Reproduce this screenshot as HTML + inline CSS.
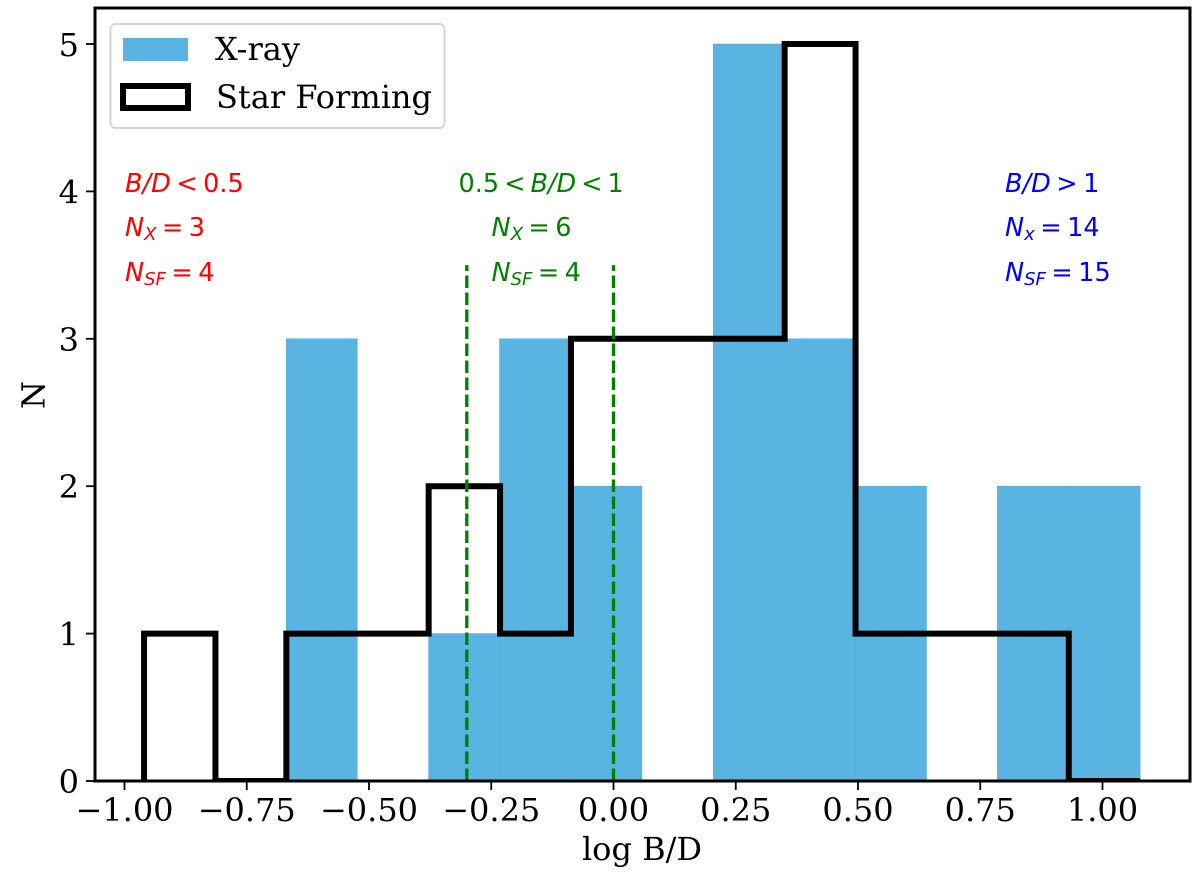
<!DOCTYPE html>
<html>
<head>
<meta charset="utf-8">
<title>log B/D histogram</title>
<style>
html,body{margin:0;padding:0;background:#fff;width:1200px;height:879px;overflow:hidden}
svg{display:block}
.tick{font-family:"DejaVu Serif","Liberation Serif",serif;font-size:32px;fill:#000}
.axt{font-family:"DejaVu Serif","Liberation Serif",serif;font-size:32px;fill:#000}
.leg{font-family:"DejaVu Serif","Liberation Serif",serif;font-size:32px;fill:#000}
.ann{font-family:"DejaVu Sans","Liberation Sans",sans-serif;font-size:25.5px}
.ann .i{font-style:italic}
.ann .s{font-size:18px;font-style:italic}
</style>
</head>
<body>
<svg id="chart" width="1200" height="879" viewBox="0 0 1200 879" xmlns="http://www.w3.org/2000/svg">
  <defs><clipPath id="axes-clip"><rect x="95" y="8" width="1095" height="773"/></clipPath></defs>
  <rect x="95" y="8" width="1095" height="773" fill="#fff"/>
  <g id="xray-bars"></g>
  <path id="sf-step" clip-path="url(#axes-clip)" fill="none" stroke="#000" stroke-width="6" stroke-linejoin="miter"/>
  <g id="guides"></g>
  <rect x="95" y="8" width="1095" height="773" fill="none" stroke="#000" stroke-width="3"/>
  <g id="x-ticks"></g>
  <g id="y-ticks"></g>
  <text class="axt" x="642" y="860" text-anchor="middle">log B/D</text>
  <text class="axt" transform="translate(44.5,395) rotate(-90)" text-anchor="middle">N</text>

  <g>
    <rect x="110.5" y="24" width="334" height="104" rx="5" fill="#fff" fill-opacity="0.85" stroke="#d6d6d6" stroke-width="2"/>
    <rect x="123" y="38" width="65" height="23" fill="#5ab4e2"/>
    <text class="leg" x="215" y="60">X-ray</text>
    <rect x="123" y="86" width="65" height="22" fill="none" stroke="#000" stroke-width="6"/>
    <text class="leg" x="216" y="108">Star Forming</text>
  </g>

  <g class="ann" fill="#ff0000">
    <text x="125" y="192"><tspan class="i">B/D</tspan><tspan dx="5.5">&lt;</tspan><tspan dx="5.5">0.5</tspan></text>
    <text x="125" y="236"><tspan class="i">N</tspan><tspan class="s" dy="4">X</tspan><tspan dy="-4" dx="5.5">=</tspan><tspan dx="5.5">3</tspan></text>
    <text x="125" y="281"><tspan class="i">N</tspan><tspan class="s" dy="4">SF</tspan><tspan dy="-4" dx="5.5">=</tspan><tspan dx="5.5">4</tspan></text>
  </g>
  <g class="ann" fill="#008000">
    <text x="458.5" y="192">0.5<tspan dx="5">&lt;</tspan><tspan class="i" dx="5">B/D</tspan><tspan dx="5">&lt;</tspan><tspan dx="5">1</tspan></text>
    <text x="491.5" y="236"><tspan class="i">N</tspan><tspan class="s" dy="4">X</tspan><tspan dy="-4" dx="5.5">=</tspan><tspan dx="5.5">6</tspan></text>
    <text x="491.5" y="281"><tspan class="i">N</tspan><tspan class="s" dy="4">SF</tspan><tspan dy="-4" dx="5.5">=</tspan><tspan dx="5.5">4</tspan></text>
  </g>
  <g class="ann" fill="#0000ff">
    <text x="1005" y="192"><tspan class="i">B/D</tspan><tspan dx="5.5">&gt;</tspan><tspan dx="5.5">1</tspan></text>
    <text x="1005" y="236"><tspan class="i">N</tspan><tspan class="s" dy="4">x</tspan><tspan dy="-4" dx="5.5">=</tspan><tspan dx="5.5">14</tspan></text>
    <text x="1005" y="281"><tspan class="i">N</tspan><tspan class="s" dy="4">SF</tspan><tspan dy="-4" dx="5.5">=</tspan><tspan dx="5.5">15</tspan></text>
  </g>
</svg>
<script>
const xrayEdges = [-0.669,-0.524,-0.378,-0.233,-0.087,0.058,0.204,0.349,0.495,0.640,0.785,0.931,1.077];
const xrayCounts = [3,0,1,3,2,0,5,3,2,0,2,2];
const sfEdges = [-0.960,-0.814,-0.669,-0.523,-0.378,-0.232,-0.087,0.059,0.204,0.350,0.495,0.640,0.786,0.931,1.077];
const sfCounts = [1,0,1,1,2,1,3,3,3,5,1,1,1,0];
const guideValues = [-0.3,0];
const guideTop = 3.5;
const xTickValues = [-1,-0.75,-0.5,-0.25,0,0.25,0.5,0.75,1];
const xTickLabels = ["\u22121.00","\u22120.75","\u22120.50","\u22120.25","0.00","0.25","0.50","0.75","1.00"];
const yTickValues = [0,1,2,3,4,5];
const yTickLabels = ["0","1","2","3","4","5"];

const NS = "http://www.w3.org/2000/svg";
function xPos(v){ return 613.5 + v * 489; }
function yPos(v){ return 781 - v * 147.4; }
function mk(tag, attrs, parent){
  const el = document.createElementNS(NS, tag);
  for (const k in attrs) el.setAttribute(k, attrs[k]);
  parent.appendChild(el);
  return el;
}

const barsG = document.getElementById("xray-bars");
xrayCounts.forEach(function(c, i){
  if (c <= 0) return;
  const x0 = xPos(xrayEdges[i]), x1 = xPos(xrayEdges[i + 1]);
  const bar = mk("rect", {x: x0, y: yPos(c), width: x1 - x0, height: yPos(0) - yPos(c), fill: "#5ab4e2", stroke: "#4fadde", "stroke-width": 0.6}, barsG);
  
  
});

let d = "M" + xPos(sfEdges[0]) + " " + yPos(0);
sfCounts.forEach(function(c, i){
  d += " L" + xPos(sfEdges[i]) + " " + yPos(c) + " L" + xPos(sfEdges[i + 1]) + " " + yPos(c);
});
d += " L" + xPos(sfEdges[sfEdges.length - 1]) + " " + yPos(0);
document.getElementById("sf-step").setAttribute("d", d);

const guidesG = document.getElementById("guides");
guideValues.forEach(function(v){
  const line = mk("line", {x1: xPos(v), x2: xPos(v), y1: yPos(0), y2: yPos(guideTop), stroke: "#008000", "stroke-width": 3.3, "stroke-dasharray": "12.5 4.5"}, guidesG);
  
  
});

const xG = document.getElementById("x-ticks");
xTickValues.forEach(function(v, i){
  const t = mk("line", {x1: xPos(v), x2: xPos(v), y1: 782, y2: 790, stroke: "#000", "stroke-width": 1.8}, xG);
  
  
  const l = mk("text", {x: xPos(v), y: 821, "text-anchor": "middle", "class": "tick"}, xG);
  l.textContent = xTickLabels[i];
  
  
});

const yG = document.getElementById("y-ticks");
yTickValues.forEach(function(v, i){
  const t = mk("line", {x1: 86, x2: 94, y1: yPos(v), y2: yPos(v), stroke: "#000", "stroke-width": 1.8}, yG);
  
  
  const l = mk("text", {x: 79, y: yPos(v) + 12, "text-anchor": "end", "class": "tick"}, yG);
  l.textContent = yTickLabels[i];
  
  
});
</script>
</body>
</html>
